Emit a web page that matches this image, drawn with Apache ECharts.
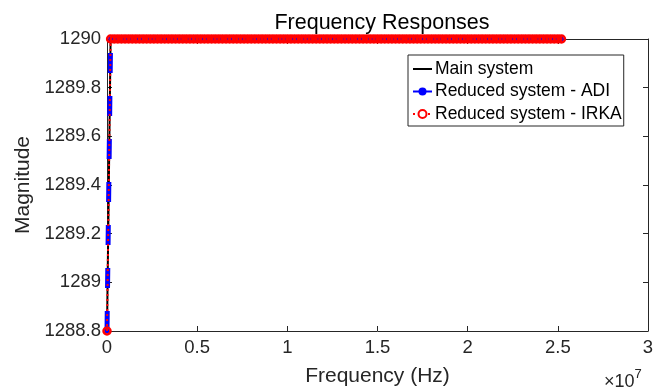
<!DOCTYPE html>
<html>
<head>
<meta charset="utf-8">
<script src="https://cdn.jsdelivr.net/npm/echarts@6/dist/echarts.min.js"></script>
<style>
  html, body { margin: 0; padding: 0; background: #fff; }
  #chart { width: 668px; height: 392px; }
</style>
</head>
<body>
<div id="chart"></div>
<script>
  // frequency points, in units of 1e5 Hz
  var freqE5 = [0, 2, 4, 6, 8, 10, 12, 14, 16, 18, 20, 22, 24, 26, 28, 30, 32, 34, 36, 38,
    40, 42, 44, 46, 48, 50, 52, 54, 56, 58, 60, 62, 64, 66, 68, 70, 72, 74, 76, 78,
    80, 82, 84, 86, 88, 90, 92, 94, 96, 98, 100, 102, 104, 106, 108, 110, 112, 114, 116, 118,
    120, 122, 124, 126, 128, 130, 132, 134, 136, 138, 140, 142, 144, 146, 148, 150, 152, 154, 156, 158,
    160, 162, 164, 166, 168, 170, 172, 174, 176, 178, 180, 182, 184, 186, 188, 190, 192, 194, 196, 198,
    200, 202, 204, 206, 208, 210, 212, 214, 216, 218, 220, 222, 224, 226, 228, 230, 232, 234, 236, 238,
    240, 242, 244, 246, 248, 250, 252];
  // magnitude (same for all three systems at this scale)
  var magMain = [1288.8, 1290, 1290, 1290, 1290, 1290, 1290, 1290, 1290, 1290, 1290, 1290, 1290, 1290, 1290, 1290, 1290, 1290, 1290, 1290,
    1290, 1290, 1290, 1290, 1290, 1290, 1290, 1290, 1290, 1290, 1290, 1290, 1290, 1290, 1290, 1290, 1290, 1290, 1290, 1290,
    1290, 1290, 1290, 1290, 1290, 1290, 1290, 1290, 1290, 1290, 1290, 1290, 1290, 1290, 1290, 1290, 1290, 1290, 1290, 1290,
    1290, 1290, 1290, 1290, 1290, 1290, 1290, 1290, 1290, 1290, 1290, 1290, 1290, 1290, 1290, 1290, 1290, 1290, 1290, 1290,
    1290, 1290, 1290, 1290, 1290, 1290, 1290, 1290, 1290, 1290, 1290, 1290, 1290, 1290, 1290, 1290, 1290, 1290, 1290, 1290,
    1290, 1290, 1290, 1290, 1290, 1290, 1290, 1290, 1290, 1290, 1290, 1290, 1290, 1290, 1290, 1290, 1290, 1290, 1290, 1290,
    1290, 1290, 1290, 1290, 1290, 1290, 1290];
  var magADI = magMain;
  var magIRKA = magMain;
  var seriesNames = ['Main system', 'Reduced system - ADI', 'Reduced system - IRKA'];

  function pairs(mag){
    var arr = [];
    freqE5.forEach(function(f, i){ arr.push([f * 1e5, mag[i]]); });
    return arr;
  }

  var axisCol = '#262626';
  var font = 'Liberation Sans, Arial, sans-serif';

  var option = {
    animation: false,
    backgroundColor: '#fff',
    textStyle: { fontFamily: font },
    title: {
      text: 'Frequency Responses',
      left: 377, top: 7, textAlign: 'center',
      textStyle: { fontFamily: font, fontSize: 21.5, fontWeight: 'normal', color: '#000' }
    },
    legend: {
      orient: 'vertical',
      left: 408, top: 55,
      padding: [5, 2, 3, 4],
      itemGap: 4.5,
      itemWidth: 19, itemHeight: 10,
      backgroundColor: '#fff',
      borderColor: axisCol, borderWidth: 1,
      textStyle: { fontFamily: font, fontSize: 17.5, color: '#000', padding: [0, 0, 0, -2] },
      data: [
        { name: seriesNames[0], itemStyle: { opacity: 0 } },
        { name: seriesNames[1], lineStyle: { type: 'solid' } },
        { name: seriesNames[2], itemStyle: { color: '#fff' } }
      ]
    },
    grid: { left: 107, right: 20, top: 39, bottom: 59 },
    xAxis: [{
      type: 'value', min: 0, max: 3e7, interval: 5e6,
      name: 'Frequency (Hz)', nameLocation: 'middle', nameGap: 35,
      nameTextStyle: { fontFamily: font, fontSize: 21, color: axisCol },
      axisLine: { onZero: false, lineStyle: { color: axisCol, width: 1 } },
      axisTick: { inside: true, length: 5, lineStyle: { color: axisCol } },
      axisLabel: { fontFamily: font, fontSize: 18.5, color: axisCol, margin: 7,
        formatter: function(v){ return String(+(v / 1e7).toFixed(2)); } },
      splitLine: { show: false }
    }, {
      type: 'value', position: 'top', min: 0, max: 3e7, interval: 5e6,
      axisLine: { onZero: false, lineStyle: { color: axisCol, width: 1 } },
      axisTick: { inside: true, length: 5, lineStyle: { color: axisCol } },
      axisLabel: { show: false }, splitLine: { show: false }
    }],
    yAxis: [{
      type: 'value', min: 1288.8, max: 1290, interval: 0.2,
      name: 'Magnitude', nameLocation: 'middle', nameGap: 69,
      nameTextStyle: { fontFamily: font, fontSize: 21, color: axisCol },
      axisLine: { show: true, onZero: false, lineStyle: { color: axisCol, width: 1 } },
      axisTick: { show: true, inside: true, length: 5, lineStyle: { color: axisCol } },
      axisLabel: { fontFamily: font, fontSize: 18.5, color: axisCol, margin: 6,
        formatter: function(v){ return String(+v.toFixed(1)); } },
      splitLine: { show: false }
    }, {
      type: 'value', position: 'right', min: 1288.8, max: 1290, interval: 0.2,
      axisLine: { show: true, onZero: false, lineStyle: { color: axisCol, width: 1 } },
      axisTick: { show: true, inside: true, length: 5, lineStyle: { color: axisCol } },
      axisLabel: { show: false }, splitLine: { show: false }
    }],
    graphic: [{
      type: 'text', left: 604, top: 368,
      style: {
        text: '{a|×10}{b|7}',
        rich: {
          a: { fontFamily: font, fontSize: 18, fill: axisCol, padding: [7, 0, 0, 0] },
          b: { fontFamily: font, fontSize: 13, fill: axisCol, padding: [0, 0, 9, 0] }
        }
      }
    }],
    series: [
      {
        name: seriesNames[0], type: 'line', data: pairs(magMain),
        symbol: 'none', z: 2,
        lineStyle: { color: '#000', width: 2 },
        itemStyle: { color: '#000' }
      },
      {
        name: seriesNames[1], type: 'line', data: pairs(magADI),
        symbol: 'circle', symbolSize: 5, z: 3,
        lineStyle: { color: '#0000ff', width: 5, type: [20, 23] },
        itemStyle: { color: '#0000ff' }
      },
      {
        name: seriesNames[2], type: 'line', data: pairs(magIRKA),
        symbol: 'circle', symbolSize: 7, z: 4,
        lineStyle: { color: '#ff0000', width: 2, type: [2, 3] },
        itemStyle: { color: 'rgba(255,255,255,0)', borderColor: '#ff0000', borderWidth: 2.5 }
      }
    ]
  };

  var myChart = echarts.init(document.getElementById('chart'));
  option && myChart.setOption(option, true);
</script>
</body>
</html>
